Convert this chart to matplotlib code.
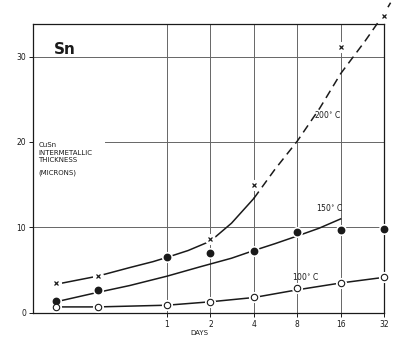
import numpy as np
from matplotlib import pyplot as plt

# measured points (days, microns)
days_x = [0.17, 0.33, 2, 4, 16, 32]
t200 = [3.5, 4.3, 8.6, 15.0, 31.1, 34.7]
days_dot = [0.17, 0.33, 1, 2, 4, 8, 16, 32]
t150 = [1.4, 2.7, 6.5, 7.0, 7.3, 9.5, 9.7, 9.8]
days_o = [0.17, 0.33, 1, 2, 4, 8, 16, 32]
t100 = [0.7, 0.7, 0.9, 1.3, 1.9, 2.9, 3.5, 4.2]

# hand drawn curves, knots
c200_solid_d = [0.176, 0.33, 0.55, 0.8, 1.0, 1.4, 2.0, 2.8, 4.0]
c200_solid_y = [3.4, 4.3, 5.3, 6.0, 6.5, 7.3, 8.4, 10.5, 13.4]
c200_dash_d = [4.0, 5.6, 8, 11.5, 16, 23.6, 32, 35.5]
c200_dash_y = [13.4, 16.8, 20.1, 24.0, 28.0, 31.8, 35.0, 36.3]
c150_d = [0.17, 0.33, 0.55, 1, 1.7, 2.8, 4, 5.6, 8, 11.3, 16]
c150_y = [1.3, 2.4, 3.2, 4.3, 5.4, 6.4, 7.3, 8.1, 9.0, 9.9, 11.0]
c100_d = [0.17, 0.33, 1, 2, 4, 8, 16, 30]
c100_y = [0.7, 0.7, 0.9, 1.3, 1.8, 2.7, 3.5, 4.1]

xticks = [1, 2, 4, 8, 16, 32]
yticks = [0, 10, 20, 30]

fig = plt.figure(figsize=(3.98, 3.39), dpi=100)
ax = fig.add_axes([0.083, 0.077, 0.882, 0.852])
ax.set_xscale('log', base=2)
ax.set_xlim(0.1176, 32)
ax.set_ylim(0, 33.8)

ink = '#1a1a1a'
grid = '#666666'
for v in [1, 2, 4, 8, 16]:
    ax.axvline(v, color=grid, lw=0.7, zorder=1)
ax.axhline(10, color=grid, lw=0.7, zorder=1)
ax.axhline(30, color=grid, lw=0.7, zorder=1)
ax.axhline(20, xmin=0.205, color=grid, lw=0.7, zorder=1)

ax.plot(c200_solid_d, c200_solid_y, color=ink, lw=1.1, zorder=2)
ax.plot(c200_dash_d, c200_dash_y, color=ink, lw=1.1, ls=(0, (5.5, 3.5)), zorder=2, clip_on=False)
ax.plot(c150_d, c150_y, color=ink, lw=1.1, zorder=2)
ax.plot(c100_d, c100_y, color=ink, lw=1.1, zorder=2)

# white halos so the curves break at the marks
for d, y in [(days_x, t200), (days_dot, t150), (days_o, t100)]:
    ax.plot(d, y, ls='none', marker='o', ms=7, color='white', zorder=3, clip_on=False)

ax.plot(days_x, t200, ls='none', marker='x', ms=3.2, mew=0.9, color=ink, zorder=4, clip_on=False)
ax.plot(days_dot, t150, ls='none', marker='o', ms=4.6, color=ink, zorder=4, clip_on=False)
ax.plot(days_o, t100, ls='none', marker='o', ms=4.6, mfc='white', mec=ink, mew=0.8,
        zorder=4, clip_on=False)

ax.text(13.1, 23.2, '200$^{\\circ}$ C', fontsize=5.5, ha='center', va='center', color=ink)
ax.text(13.5, 12.3, '150$^{\\circ}$ C', fontsize=5.5, ha='center', va='center', color=ink)
ax.text(9.2, 4.3, '100$^{\\circ}$ C', fontsize=5.5, ha='center', va='center', color=ink)

ax.text(0.165, 30.8, 'Sn', fontsize=11, fontweight='bold', color=ink, va='center')
ax.text(0.128, 17.5, 'CuSn\nINTERMETALLIC\nTHICKNESS', fontsize=5, color=ink,
        va='bottom', linespacing=1.35)
ax.text(0.128, 16.4, '(MICRONS)', fontsize=5, color=ink, va='center')

ax.set_xticks(xticks)
ax.set_xticklabels([str(v) for v in xticks])
ax.set_yticks(yticks)
ax.set_yticklabels([str(v) for v in yticks])
ax.minorticks_off()
ax.tick_params(labelsize=5.5, length=3, width=0.7, colors=ink, pad=2)
ax.set_xlabel('DAYS', fontsize=5, color=ink, labelpad=1)
ax.xaxis.set_label_coords(0.475, -0.06)

for s in ax.spines.values():
    s.set_linewidth(0.9)
    s.set_color(ink)

fig.savefig('out.png', dpi=100)
